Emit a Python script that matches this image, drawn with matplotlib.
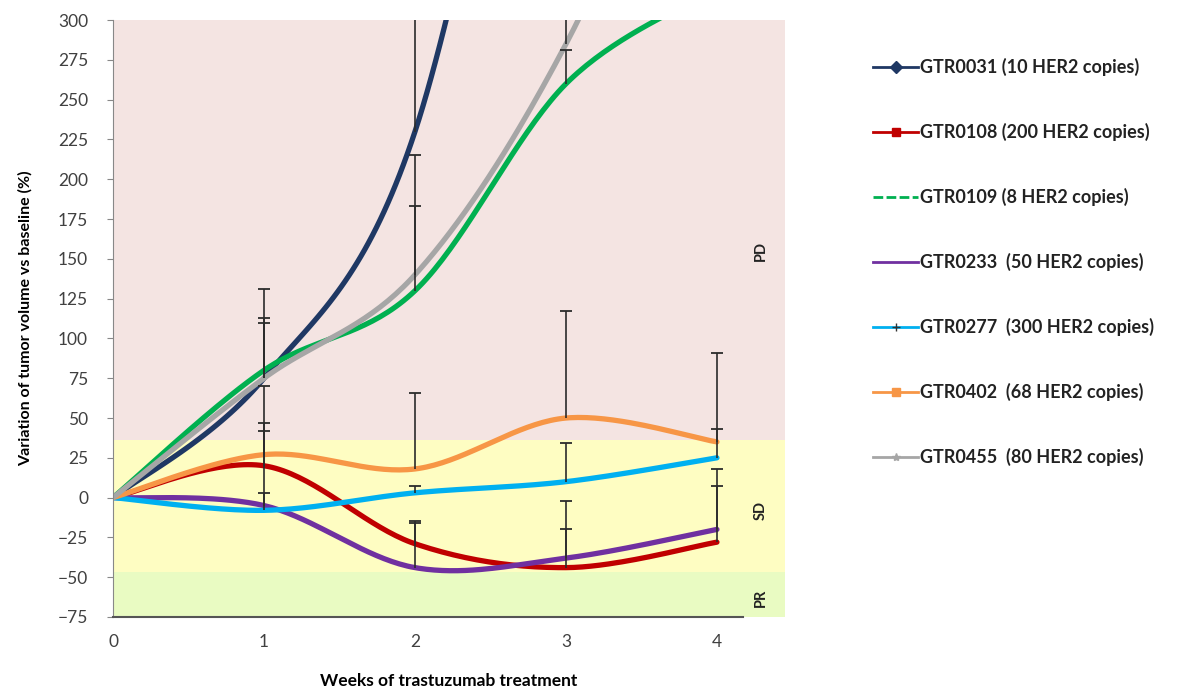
import numpy as np
import matplotlib
matplotlib.use('Agg')
import matplotlib.pyplot as plt
from matplotlib.lines import Line2D

plt.rcParams['font.family'] = ['Lato', 'DejaVu Sans']

# 数据：周数与各模型肿瘤体积变化 (%)
weeks = [0, 1, 2, 3, 4]
series_names = [
    'GTR0031 (10 HER2 copies)',
    'GTR0108 (200 HER2 copies)',
    'GTR0109 (8 HER2 copies)',
    'GTR0233  (50 HER2 copies)',
    'GTR0277  (300 HER2 copies)',
    'GTR0402  (68 HER2 copies)',
    'GTR0455  (80 HER2 copies)',
]
gtr0031 = [0, 75, 230, 650, np.nan]
gtr0108 = [0, 20, -29, -44, -28]
gtr0109 = [0, 80, 130, 260, 320]
gtr0233 = [0, -5, -44, -38, -20]
gtr0277 = [0, -8, 3, 10, 25]
gtr0402 = [0, 27, 18, 50, 35]
gtr0455 = [0, 75, 140, 285, 500]

# 误差（只画正方向）
err0031 = [0, 35, 90, 0, 0]
err0108 = [0, 27, 13, 24, 35]
err0109 = [0, 51, 85, 21, 0]
err0233 = [0, 8, 29, 36, 38]
err0277 = [0, 50, 4, 24, 18]
err0402 = [0, 43, 48, 67, 56]
err0455 = [0, 38, 43, 60, 0]

# 响应区间
band_names = ['PD', 'SD', 'PR']
band_edges = [36, -47]
band_label_y = [155, -8, -63]

colors = ['#1F3864', '#C00000', '#00B050', '#7030A0', '#00B0F0', '#F79646', '#A6A6A6']
markers = ['D', 's', None, None, '+', 's', '*']


def smooth(x, y, n=40):
    """Excel 风格平滑曲线 (Catmull-Rom)"""
    x = np.asarray(x, float)
    y = np.asarray(y, float)
    ok = ~np.isnan(y)
    x, y = x[ok], y[ok]
    pts = np.column_stack([x, y])
    out = []
    for i in range(len(pts) - 1):
        p0 = pts[i - 1] if i > 0 else pts[i]
        p1, p2 = pts[i], pts[i + 1]
        p3 = pts[i + 2] if i + 2 < len(pts) else pts[i + 1]
        c1 = p1 + (p2 - p0) / 6
        c2 = p2 - (p3 - p1) / 6
        t = np.linspace(0, 1, n)[:, None]
        seg = ((1 - t) ** 3) * p1 + 3 * ((1 - t) ** 2) * t * c1 + 3 * (1 - t) * t ** 2 * c2 + t ** 3 * p2
        out.append(seg)
    out = np.vstack(out)
    return out[:, 0], out[:, 1]


values = [gtr0031, gtr0108, gtr0109, gtr0233, gtr0277, gtr0402, gtr0455]
errors = [err0031, err0108, err0109, err0233, err0277, err0402, err0455]

fig = plt.figure(figsize=(11.86, 6.94), dpi=100)
ax = fig.add_axes([0.0953, 0.111, 0.5665, 0.860])

ymin, ymax = -75, 300
ax.axhspan(band_edges[0], ymax, color='#F4E4E2', zorder=0, lw=0)
ax.axhspan(band_edges[1], band_edges[0], color='#FEFDC2', zorder=0, lw=0)
ax.axhspan(ymin, band_edges[1], color='#E9FBC2', zorder=0, lw=0)

wk = np.array(weeks, float)
for vals, errs, c in zip(values, errors, colors):
    sx, sy = smooth(weeks, vals)
    ax.plot(sx, sy, color=c, lw=3.8, solid_capstyle='round', zorder=2)
    v = np.array(vals, float)
    e = np.array(errs, float)
    ok = ~np.isnan(v) & (e > 0)
    # 仅正向误差棒
    ax.vlines(wk[ok], v[ok], v[ok] + e[ok], color='#2b2b2b', lw=1.2, zorder=3)
    ax.plot(wk[ok], v[ok] + e[ok], ls='none', marker='_', ms=9, mew=1.3,
            color='#2b2b2b', zorder=3)

ax.set_xlim(0, 4.45)
ax.set_ylim(ymin, ymax)
ax.set_yticks(np.arange(-75, 301, 25))
ax.set_xticks(weeks)
ax.tick_params(axis='y', labelsize=12.5, labelcolor='#404040', color='#888888', length=4, pad=14)
ax.tick_params(axis='x', labelsize=12.5, labelcolor='#404040', length=0, pad=12)
for side in ['top', 'right']:
    ax.spines[side].set_visible(False)
ax.spines['left'].set_color('#888888')
ax.spines['bottom'].set_color('#555555')
ax.spines['bottom'].set_linewidth(1.5)
ax.spines['bottom'].set_bounds(0, 4.17)

ax.set_xlabel('Weeks of trastuzumab treatment', fontsize=12.5, fontweight='bold', labelpad=17)
ax.set_ylabel('Variation of tumor volume vs baseline (%)', fontsize=11.5, fontweight='bold', labelpad=18)

for name, ym in zip(band_names, band_label_y):
    ax.text(4.29, ym, name, rotation=90, ha='center', va='center', fontsize=10.5, fontweight='bold', color='#222222')

handles = []
for c, m, name in zip(colors, markers, series_names):
    ls = (0, (3.5, 1.2)) if name.startswith('GTR0109') else '-'
    mec = '#333333' if m == '+' else c
    handles.append(Line2D([], [], color=c, lw=2, ls=ls, marker=m, markersize=6,
                          markerfacecolor=c, markeredgecolor=mec, label=name))
leg = fig.legend(handles=handles, loc='upper left', bbox_to_anchor=(0.730, 0.927),
                 frameon=False, fontsize=13, labelspacing=2.6, handlelength=2.5,
                 handletextpad=0.1, borderaxespad=0)
for t in leg.get_texts():
    t.set_fontweight('bold')
    t.set_color('#222222')

fig.savefig('out.png', dpi=100)
plt.close()
